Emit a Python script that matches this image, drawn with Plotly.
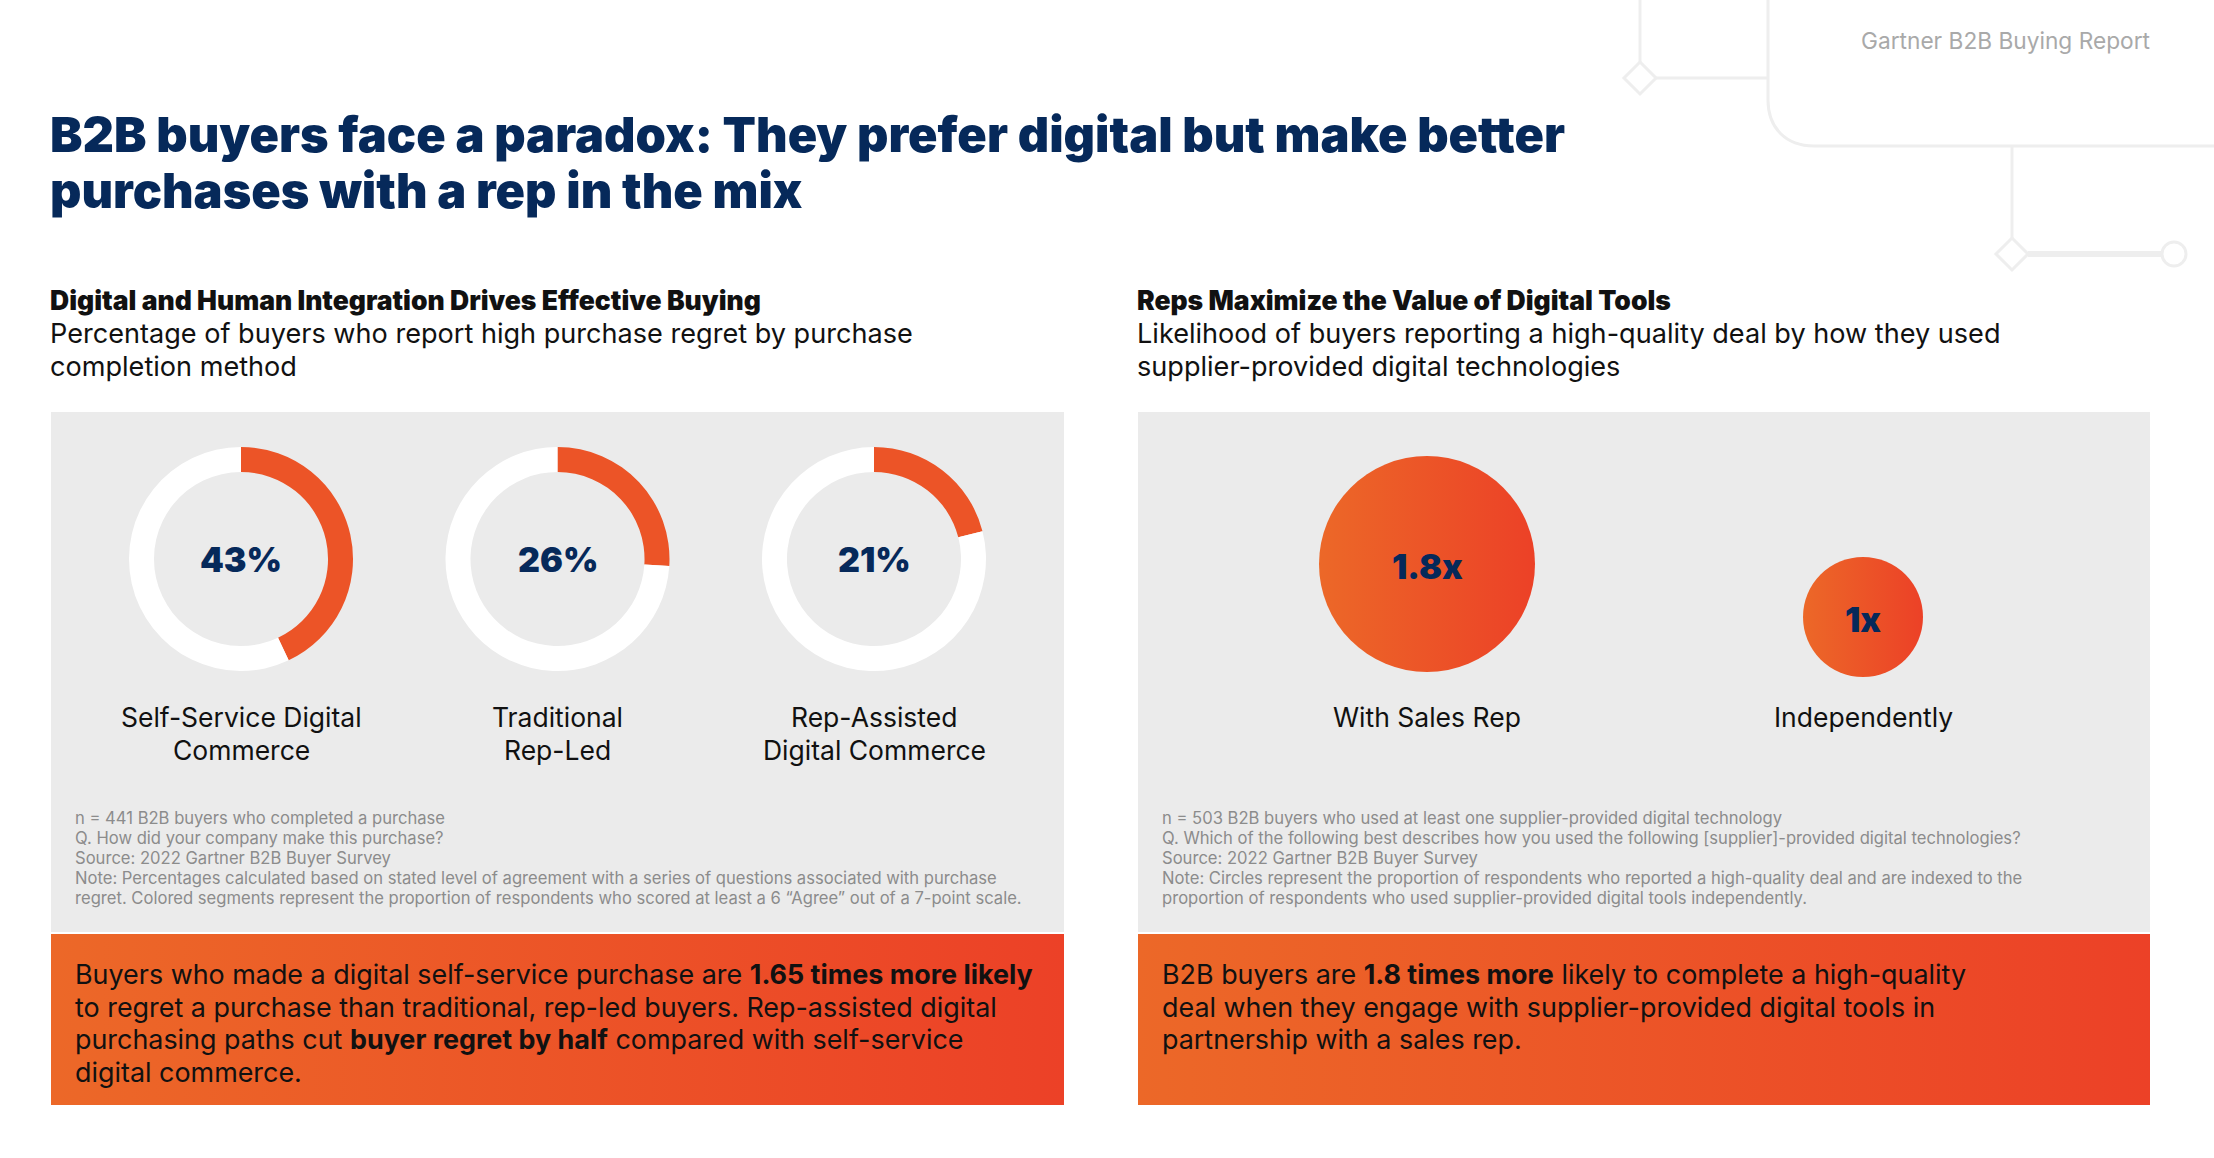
import plotly.graph_objects as go

# ---------------- data ----------------
title_lines = ["B2B buyers face a paradox: They prefer digital but make better",
               "purchases with a rep in the mix"]
header_text = "Gartner B2B Buying Report"

left_heading = "Digital and Human Integration Drives Effective Buying"
left_sub = ["Percentage of buyers who report high purchase regret by purchase",
            "completion method"]
donut_labels = ["Self-Service Digital<br>Commerce", "Traditional<br>Rep-Led",
                "Rep-Assisted<br>Digital Commerce"]
donut_values = [43, 26, 21]
left_notes = [
    "n = 441 B2B buyers who completed a purchase",
    "Q. How did your company make this purchase?",
    "Source: 2022 Gartner B2B Buyer Survey",
    "Note: Percentages calculated based on stated level of agreement with a series of questions associated with purchase",
    "regret. Colored segments represent the proportion of respondents who scored at least a 6 \u201cAgree\u201d out of a 7-point scale.",
]
left_callout = [
    "Buyers who made a digital self-service purchase are <b>1.65 times more likely</b>",
    "to regret a purchase than traditional, rep-led buyers. Rep-assisted digital",
    "purchasing paths cut <b>buyer regret by half</b> compared with self-service",
    "digital commerce.",
]

right_heading = "Reps Maximize the Value of Digital Tools"
right_sub = ["Likelihood of buyers reporting a high-quality deal by how they used",
             "supplier-provided digital technologies"]
bubble_labels = ["With Sales Rep", "Independently"]
bubble_values = [1.8, 1.0]
right_notes = [
    "n = 503 B2B buyers who used at least one supplier-provided digital technology",
    "Q. Which of the following best describes how you used the following [supplier]-provided digital technologies?",
    "Source: 2022 Gartner B2B Buyer Survey",
    "Note: Circles represent the proportion of respondents who reported a high-quality deal and are indexed to the",
    "proportion of respondents who used supplier-provided digital tools independently.",
]
right_callout = [
    "B2B buyers are <b>1.8 times more</b> likely to complete a high-quality",
    "deal when they engage with supplier-provided digital tools in",
    "partnership with a sales rep.",
]

# ---------------- style / layout constants ----------------
W, H = 2214, 1158
NAVY = "#06295A"
ORANGE_L = "#EC6828"
ORANGE_R = "#EC4127"
ORANGE_MID = "#EC5427"
PANEL = "#EBEBEB"
DECO = "#EEEEEE"
FONT = "Inter"

L0, L1 = 51, 1064
R0, R1 = 1138, 2150
PANEL_TOP, PANEL_BOT = 412, 932
BOX_TOP, BOX_BOT = 934, 1105

fig = go.Figure()

# gradient callout boxes
for x0, x1 in [(L0, L1), (R0, R1)]:
    fig.add_trace(go.Scatter(
        x=[x0, x1, x1, x0, x0], y=[BOX_TOP, BOX_TOP, BOX_BOT, BOX_BOT, BOX_TOP],
        mode="lines", fill="toself", line=dict(width=0),
        fillgradient=dict(type="horizontal",
                          colorscale=[[0, ORANGE_L], [1, ORANGE_R]]),
        hoverinfo="skip", showlegend=False))

# donuts
donut_cx = [241, 557.5, 874]
donut_cy = 559
R = 112
for cx, v in zip(donut_cx, donut_values):
    fig.add_trace(go.Pie(
        values=[v, 100 - v], hole=0.777, sort=False, direction="clockwise",
        rotation=0, textinfo="none", hoverinfo="skip", showlegend=False,
        marker=dict(colors=[ORANGE_MID, "white"], line=dict(width=0)),
        domain=dict(x=[(cx - R) / W, (cx + R) / W],
                    y=[1 - (donut_cy + R) / H, 1 - (donut_cy - R) / H])))

# bubbles (diameter proportional to value)
bubble_x = [1427, 1863]
bubble_y = [564, 617]
fig.add_trace(go.Scatter(
    x=bubble_x, y=bubble_y, mode="markers", hoverinfo="skip", showlegend=False,
    marker=dict(size=bubble_values, sizemode="diameter", sizeref=1 / 120,
                color=ORANGE_L, gradient=dict(type="horizontal", color=ORANGE_R),
                line=dict(width=0), opacity=1)))

shapes = []
# grey panels
for x0, x1 in [(L0, L1), (R0, R1)]:
    shapes.append(dict(type="rect", x0=x0, x1=x1, y0=PANEL_TOP, y1=PANEL_BOT,
                       fillcolor=PANEL, line=dict(width=0), layer="below"))

# decorative lines top right
dl = dict(color=DECO, width=3)
shapes += [
    dict(type="line", x0=1640, y0=0, x1=1640, y1=62, line=dl, layer="below"),
    dict(type="path", path="M1640,62 L1656,78 L1640,94 L1624,78 Z",
         line=dl, fillcolor="white", layer="below"),
    dict(type="line", x0=1656, y0=78, x1=1768, y1=78, line=dl, layer="below"),
    dict(type="path", path="M1768,0 L1768,100 C1768,128 1786,146 1814,146 L2214,146",
         line=dl, layer="below"),
    dict(type="line", x0=2012, y0=146, x1=2012, y1=238, line=dl, layer="below"),
    dict(type="path", path="M2012,238 L2028,254 L2012,270 L1996,254 Z",
         line=dl, fillcolor="white", layer="below"),
    dict(type="line", x0=2028, y0=254, x1=2162, y1=254,
         line=dict(color=DECO, width=6), layer="below"),
    dict(type="circle", x0=2162, x1=2186, y0=242, y1=266,
         line=dl, fillcolor="white", layer="below"),
]

ann = []


def txt(x, y, s, size, color="#111111", xanchor="left", weight=None, font=FONT):
    f = dict(family=font, size=size, color=color)
    if weight:
        f["weight"] = weight
    ann.append(dict(x=x, y=y, xref="x", yref="y", text=s, showarrow=False,
                    xanchor=xanchor, yanchor="middle", font=f, align="center"))


txt(2152, 40, header_text, 22.7, color="#A9A9A9", xanchor="right")
for i, line in enumerate(title_lines):
    txt(48, 134 + i * 56, line, 48.7, color=NAVY, weight=900)

for x, head, sub in [(L0 - 3, left_heading, left_sub), (R0 - 3, right_heading, right_sub)]:
    txt(x, 300, head, 26.5, weight=900)
    for i, line in enumerate(sub):
        txt(x, 333 + i * 33, line, 27.1)

# donut centre labels + category labels
for cx, v, lab in zip(donut_cx, donut_values, donut_labels):
    txt(cx, donut_cy, f"{v}%", 34, color=NAVY, xanchor="center", weight=900)
    for i, part in enumerate(lab.split("<br>")):
        txt(cx, 717 + i * 33, part, 26.5, xanchor="center")

for bx, by, v, lab in zip(bubble_x, bubble_y, bubble_values, bubble_labels):
    vs = f"{v:g}x"
    txt(bx, by + 2, vs, 34, color=NAVY, xanchor="center", weight=900)
    txt(bx, 717, lab, 26.5, xanchor="center")

for x, notes in [(L0 + 22, left_notes), (R0 + 22, right_notes)]:
    for i, line in enumerate(notes):
        txt(x, 818 + i * 20, line, 16.6, color="#8C8C8C")

for x, lines in [(L0 + 22, left_callout), (R0 + 22, right_callout)]:
    for i, line in enumerate(lines):
        txt(x, 974 + i * 32.7, line, 26.9)

fig.update_layout(
    width=W, height=H, margin=dict(l=0, r=0, t=0, b=0, pad=0),
    paper_bgcolor="white", plot_bgcolor="white", showlegend=False,
    xaxis=dict(range=[0, W], visible=False, fixedrange=True, domain=[0, 1]),
    yaxis=dict(range=[H, 0], visible=False, fixedrange=True, domain=[0, 1]),
    shapes=shapes, annotations=ann, hovermode=False,
)

fig.write_html("out.html", config={"displayModeBar": False},
               post_script="document.body.style.margin='0';document.body.style.overflow='hidden';")
